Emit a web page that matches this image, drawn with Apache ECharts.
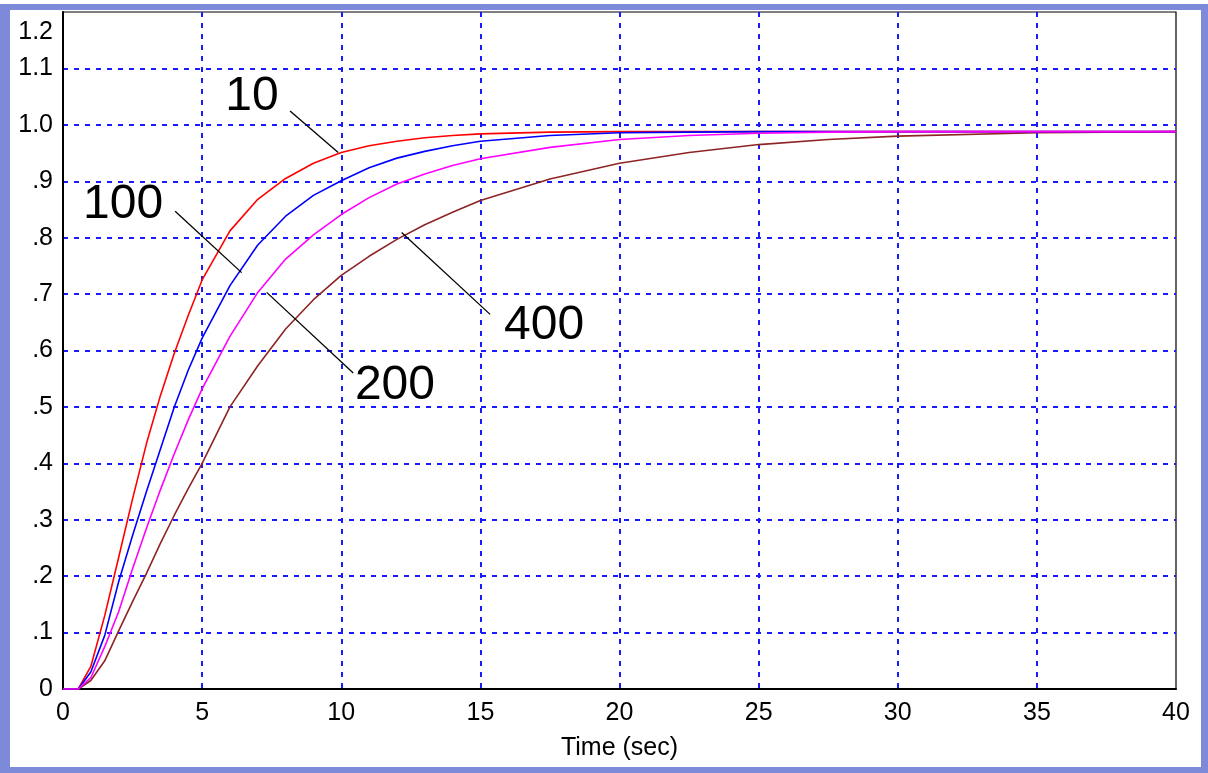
<!DOCTYPE html>
<html>
<head>
<meta charset="utf-8">
<script src="https://cdn.jsdelivr.net/npm/echarts@6/dist/echarts.min.js"></script>
<style>
  html, body { margin: 0; padding: 0; background: #ffffff; }
  #wrap { position: relative; width: 1208px; height: 773px; overflow: hidden; background: #ffffff; }
  #frame { position: absolute; left: 0; top: 4px; width: 1191px; height: 757px;
           border-style: solid; border-color: #7d89d9; border-width: 6px 7px 6px 10px; background: #ffffff; }
  #chart { position: absolute; left: 0; top: 0; width: 1208px; height: 773px; }
</style>
</head>
<body>
<div id="wrap">
  <div id="frame"></div>
  <div id="chart"></div>
</div>
<script>
// ---- data ----
const time = [0, 0.55, 1, 1.5, 2, 2.5, 3, 3.5, 4, 4.5, 5, 6, 7, 8, 9, 10, 11, 12, 13, 14, 15, 17.5, 20, 22.5, 25, 27.5, 30, 35, 40];
const y10  = [0, 0, 0.04, 0.13, 0.233, 0.337, 0.435, 0.52, 0.595, 0.662, 0.725, 0.812, 0.868, 0.905, 0.932, 0.951, 0.963, 0.971, 0.977, 0.981, 0.984, 0.987, 0.988, 0.988, 0.988, 0.988, 0.988, 0.988, 0.988];
const y100 = [0, 0, 0.03, 0.095, 0.19, 0.272, 0.35, 0.425, 0.5, 0.565, 0.622, 0.715, 0.787, 0.838, 0.875, 0.901, 0.924, 0.941, 0.953, 0.963, 0.971, 0.981, 0.986, 0.987, 0.988, 0.988, 0.988, 0.988, 0.988];
const y200 = [0, 0, 0.02, 0.075, 0.137, 0.213, 0.285, 0.353, 0.417, 0.477, 0.532, 0.625, 0.703, 0.762, 0.805, 0.841, 0.871, 0.895, 0.913, 0.928, 0.94, 0.96, 0.974, 0.981, 0.985, 0.987, 0.988, 0.988, 0.988];
const y400 = [0, 0, 0.015, 0.05, 0.103, 0.155, 0.205, 0.258, 0.308, 0.355, 0.40, 0.50, 0.573, 0.638, 0.69, 0.733, 0.767, 0.797, 0.823, 0.845, 0.866, 0.904, 0.932, 0.951, 0.965, 0.974, 0.98, 0.986, 0.988];

const xTicks = [0, 5, 10, 15, 20, 25, 30, 35, 40];
const yTicks = ['0', '.1', '.2', '.3', '.4', '.5', '.6', '.7', '.8', '.9', '1.0', '1.1', '1.2'];

// curve labels (text, text position, pointer start, pointer end) in data units
const labelText  = ['10', '100', '200', '400'];
const labelAt    = [[6.79, 1.049], [2.16, 0.859], [11.93, 0.538], [17.29, 0.644]];
const pointerFrom = [[8.16, 1.0245], [4.03, 0.847], [10.43, 0.560], [15.35, 0.664]];
const pointerTo   = [[9.89, 0.951], [6.42, 0.738], [7.32, 0.703], [12.17, 0.809]];

const FONT = 'Liberation Sans, Arial, sans-serif';
const pairs = ys => time.map((t, i) => [t, ys[i]]);

const chart = echarts.init(document.getElementById('chart'), null, { renderer: 'canvas' });

function lineSeries(name, ys, color) {
  return {
    name, type: 'line', data: pairs(ys), showSymbol: false, symbol: 'none',
    smooth: false,
    lineStyle: { color, width: 1.6 }, itemStyle: { color }, silent: true
  };
}

const series = [
  lineSeries('400', y400, '#8e2424'),
  lineSeries('10', y10, '#ff0000'),
  lineSeries('100', y100, '#0000ff'),
  lineSeries('200', y200, '#ff00ff'),
  {
    name: 'labels', type: 'scatter', symbolSize: 0, silent: true,
    itemStyle: { opacity: 1, color: '#000' },
    data: labelText.map((s, i) => [labelAt[i][0], labelAt[i][1], s]),
    label: { show: true, position: 'inside', formatter: p => p.data[2],
             fontSize: 48, fontFamily: FONT, color: '#000', textBorderWidth: 0, opacity: 1 },
    markLine: {
      silent: true, symbol: 'none', animation: false,
      label: { show: false },
      lineStyle: { color: '#000', width: 1.3, type: 'solid', opacity: 1 },
      data: pointerFrom.map((p, i) => [{ coord: p }, { coord: pointerTo[i] }])
    }
  }
];

chart.setOption({
  animation: false,
  backgroundColor: 'transparent',
  grid: { left: 63, top: 12, right: 32, bottom: 84, show: true, borderColor: '#000', borderWidth: 1.2, backgroundColor: 'transparent' },
  xAxis: {
    type: 'value', min: 0, max: 40, interval: 5,
    name: 'Time (sec)', nameLocation: 'middle', nameGap: 47,
    nameTextStyle: { fontSize: 25, fontFamily: FONT, color: '#000' },
    axisLine: { show: true, lineStyle: { color: '#000', width: 2 } },
    axisTick: { show: false },
    axisLabel: { fontSize: 25, fontFamily: FONT, color: '#000', margin: 12,
                 formatter: v => String(xTicks[Math.round(v / 5)]) },
    splitLine: { show: true, showMinLine: false, showMaxLine: false,
                 lineStyle: { color: '#1a1aff', width: 2, type: [5, 6] } }
  },
  yAxis: {
    type: 'value', min: 0, max: 1.2, interval: 0.1,
    axisLine: { show: true, lineStyle: { color: '#000', width: 2 } },
    axisTick: { show: false },
    axisLabel: {
      fontSize: 25, fontFamily: FONT, color: '#000', margin: 10,
      formatter: v => {
        const k = Math.round(v * 10);
        return k === 12 ? '{top|' + yTicks[k] + '}' : yTicks[k];
      },
      rich: { top: { fontSize: 25, fontFamily: FONT, color: '#000', padding: [40, 0, 0, 0] } }
    },
    splitLine: { show: true, showMinLine: false, showMaxLine: false,
                 lineStyle: { color: '#1a1aff', width: 2, type: [5, 6] } }
  },
  series
});
</script>
</body>
</html>
